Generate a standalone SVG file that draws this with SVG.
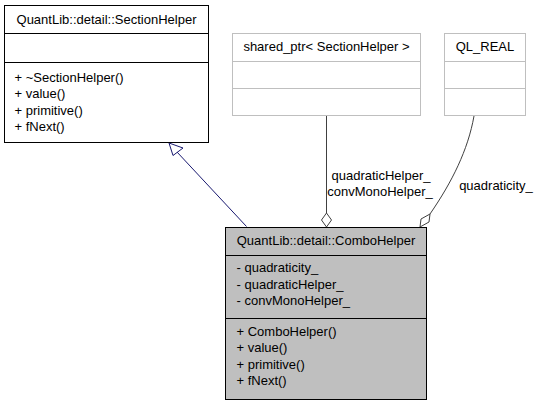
<svg xmlns="http://www.w3.org/2000/svg" width="539" height="405" viewBox="0 0 539 405">
<style>
text{font-family:"Liberation Sans",Arial,sans-serif;font-size:13px;fill:#000}
.c{text-anchor:middle}
.box{fill:#fff;stroke:#000;stroke-width:1}
.ext{fill:#fff;stroke:#bfbfbf;stroke-width:1}
.cur{fill:#bfbfbf;stroke:#000;stroke-width:1}
.inh{fill:none;stroke:#191970;stroke-width:1}
.use{fill:none;stroke:#404040;stroke-width:1}
</style>
<g id="connectors">
<path class="inh" d="M246.5,226.5 L177,152"/>
<polygon points="169,143 173,155.5 183,148" fill="#fff" stroke="#191970"/>
<path class="use" d="M326.5,116 L326.5,213"/>
<polygon points="326.5,213 331.5,220 326.5,227 321.5,220" fill="#fff" stroke="#404040"/>
<path class="use" d="M474,116 C468,150 452,182 430,214"/>
<polygon points="430,214 429,222 420,227 421,219" fill="#fff" stroke="#404040"/>
<text class="c" x="381" y="180">quadraticHelper_</text>
<text class="c" x="380" y="196">convMonoHelper_</text>
<text class="c" x="496" y="190">quadraticity_</text>
</g>
<g id="SectionHelper">
<rect class="box" x="4.5" y="5.5" width="204" height="137"/>
<line class="box" x1="4.5" y1="33.5" x2="208.5" y2="33.5"/>
<line class="box" x1="4.5" y1="62.5" x2="208.5" y2="62.5"/>
<text class="c" x="106.5" y="24">QuantLib::detail::SectionHelper</text>
<text x="14.5" y="82">+ ~SectionHelper()</text>
<text x="14.5" y="98">+ value()</text>
<text x="14.5" y="114.5">+ primitive()</text>
<text x="14.5" y="131">+ fNext()</text>
</g>
<g id="shared_ptr">
<rect class="ext" x="232.5" y="33.5" width="188" height="82"/>
<line class="ext" x1="232.5" y1="61.5" x2="420.5" y2="61.5"/>
<line class="ext" x1="232.5" y1="88.5" x2="420.5" y2="88.5"/>
<text class="c" x="326.5" y="51">shared_ptr&lt; SectionHelper &gt;</text>
</g>
<g id="QL_REAL">
<rect class="ext" x="444.5" y="33.5" width="81" height="82"/>
<line class="ext" x1="444.5" y1="61.5" x2="525.5" y2="61.5"/>
<line class="ext" x1="444.5" y1="88.5" x2="525.5" y2="88.5"/>
<text class="c" x="485" y="51">QL_REAL</text>
</g>
<g id="ComboHelper">
<rect class="cur" x="225.5" y="227.5" width="201" height="172"/>
<line class="cur" x1="225.5" y1="255.5" x2="426.5" y2="255.5"/>
<line class="cur" x1="225.5" y1="318.5" x2="426.5" y2="318.5"/>
<text class="c" x="326" y="245">QuantLib::detail::ComboHelper</text>
<text x="236.5" y="272">- quadraticity_</text>
<text x="236.5" y="288.5">- quadraticHelper_</text>
<text x="236.5" y="305">- convMonoHelper_</text>
<text x="236.5" y="336">+ ComboHelper()</text>
<text x="236.5" y="352">+ value()</text>
<text x="236.5" y="368.5">+ primitive()</text>
<text x="236.5" y="385">+ fNext()</text>
</g>
</svg>
